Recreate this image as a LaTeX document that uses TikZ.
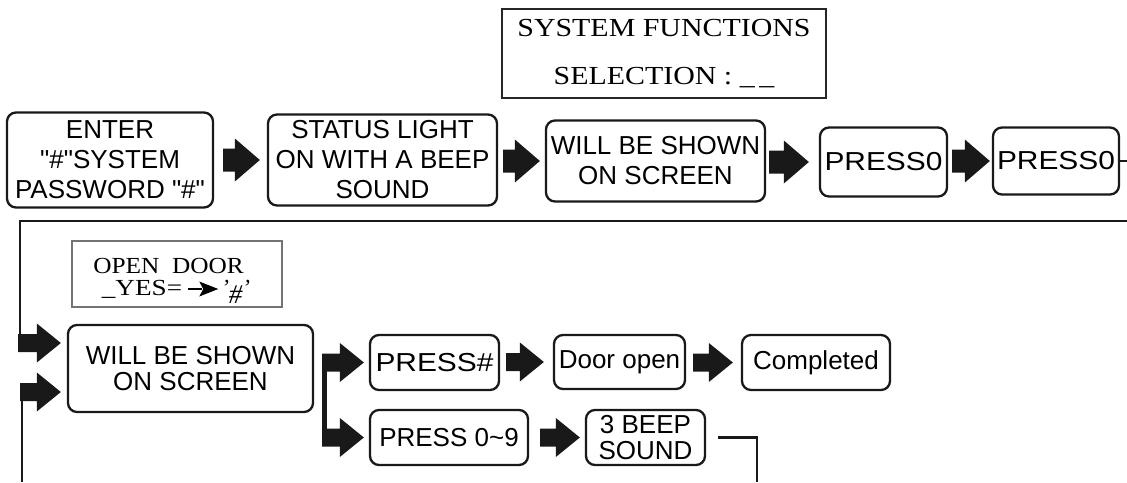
\documentclass[tikz,border=0pt]{standalone}
\usepackage{fontspec}
\usepackage{graphicx}
\setmainfont{Liberation Serif}
\newfontfamily\sansfont{Liberation Sans}
\usetikzlibrary{calc}
% block arrow: tail, tip, shaft half height, head half height, head length
\newcommand\barrow[5]{\fill[black!90] let \p1=(#1), \p2=(#2) in
  (\x1,\y2+#3) -- (\x2-#5,\y2+#3) -- (\x2-#5,\y2+#4) -- (\x2,\y2) --
  (\x2-#5,\y2-#4) -- (\x2-#5,\y2-#3) -- (\x1,\y2-#3) -- cycle;}
\newcommand\bigar[2]{\barrow{#1}{#2}{11.5pt}{21.5pt}{25pt}}
\newcommand\smallar[2]{\barrow{#1}{#2}{9pt}{19.5pt}{24pt}}
\newcommand\wx[2]{\scalebox{#1}[1]{#2}}
\begin{document}
\begin{tikzpicture}[x=1pt,y=-1pt,
  rbox/.style={draw=black!90, line width=2.3pt, rounded corners=9pt, align=center,
    inner sep=0pt, font=\sansfont\fontsize{26}{30}\selectfont},
  rbox2/.style={rbox, font=\sansfont\fontsize{26}{26}\selectfont},
  conn/.style={draw=black!90, line width=2.4pt}]
\useasboundingbox[fill=white] (0,0) rectangle (1127,482);

% header box
\node[draw=black!85, line width=2pt, minimum width=324pt, minimum height=89pt,
  inner sep=0pt, align=center, font=\fontsize{26}{48}\selectfont] (sys) at (664,53.5)
  {\wx{1.15}{SYSTEM FUNCTIONS}\\\wx{1.15}{SELECTION :~\_\hspace{4pt}\_}};

% row 1
\node[rbox, minimum width=206pt, minimum height=95pt] (b1) at (110,160)
  {ENTER\\"\#"SYSTEM\\PASSWORD "\#"};
\node[rbox, minimum width=229pt, minimum height=91pt] (b2) at (382.5,160)
  {STATUS LIGHT\\ON WITH A BEEP\\SOUND};
\node[rbox, minimum width=219pt, minimum height=81pt] (b3) at (655.5,161)
  {WILL BE SHOWN\\ON SCREEN};
\node[rbox, minimum width=127pt, minimum height=69pt] (b4) at (883.5,162)
  {\wx{1.15}{PRESS0}};
\node[rbox, minimum width=126pt, minimum height=67pt] (b5) at (1056,161)
  {\wx{1.15}{PRESS0}};

\bigar{[xshift=9pt]b1.east}{[xshift=-7pt]b2.west}
\bigar{[xshift=5pt]b2.east}{[xshift=-5pt]b3.west}
\bigar{[xshift=3pt]b3.east}{[xshift=-10pt]b4.west}
\bigar{[xshift=4pt]b4.east}{[xshift=-2pt]b5.west}

% return line
\coordinate (R1) at (1127,221);
\coordinate (L1) at (20,221);
\coordinate (T1) at (20,343);
\coordinate (T2) at (22,392);
\coordinate (B2) at (22,482);
\draw[conn] (b5.east) -- (b5.east -| R1);
\draw[conn] (R1) -- (L1) -- (T1);
\draw[conn] (B2) -- (T2);

% open door box
\node[draw=black!55, line width=1.3pt, minimum width=210pt, minimum height=66pt,
  inner sep=0pt, align=center, font=\fontsize{23}{22}\selectfont] (od) at (177,274)
  {\rule{0pt}{28pt}\wx{1.1}{OPEN\ \ DOOR}\hspace*{17pt}\\[0pt]
   \wx{1.18}{\_YES=}\hspace{5pt}\tikz[baseline=0pt]{\draw[line width=2.4pt] (0pt,6pt)--(14pt,6pt);
   \fill (11pt,13.5pt)--(30pt,6pt)--(11pt,-1.5pt)--(15pt,6pt)--cycle;}\hspace{3pt}{\itshape ’\raisebox{-8pt}{\fontsize{27}{22}\selectfont\#}’}\hspace*{2pt}};

% row 2
\node[rbox2, minimum width=245pt, minimum height=87pt] (r2) at (190.5,368.5)
  {WILL BE SHOWN\\ON SCREEN};
\smallar{18,343}{$(r2.west|-T1)+(-6,0)$}
\smallar{20,392}{$(r2.west|-T2)+(-6,0)$}

\node[rbox2, minimum width=129pt, minimum height=55pt] (p1) at (434.5,362.5)
  {\wx{1.15}{PRESS\#}};
\node[rbox2, minimum width=131pt, minimum height=54pt] (d) at (619.5,362)
  {Door open};
\node[rbox2, minimum width=148pt, minimum height=55pt] (c) at (816,362.5)
  {Completed};
\node[rbox2, minimum width=158pt, minimum height=55pt] (p2) at (449,437.5)
  {PRESS 0\textasciitilde 9};
\node[rbox2, minimum width=119pt, minimum height=55pt] (beep) at (645.5,437.5)
  {3 BEEP\\SOUND};

\coordinate (J1) at (324.5,362.5);
\coordinate (J2) at (324.5,437.5);
\draw[draw=black!90, line width=5pt] ([yshift=-4pt]J1) -- ([yshift=4pt]J2);
\smallar{322,362.5}{[xshift=-5pt]p1.west}
\smallar{322,437.5}{[xshift=-5pt]p2.west}
\smallar{[xshift=6pt]p1.east}{[xshift=-9pt]d.west}
\smallar{[xshift=7pt]d.east}{[xshift=-8pt]c.west}
\smallar{[xshift=11pt]p2.east}{[xshift=-5pt]beep.west}

\coordinate (S1) at (757,437.5);
\coordinate (S2) at (757,482);
\draw[conn] ([xshift=12pt]beep.east) -- (S1) -- (S2);
\end{tikzpicture}
\end{document}
